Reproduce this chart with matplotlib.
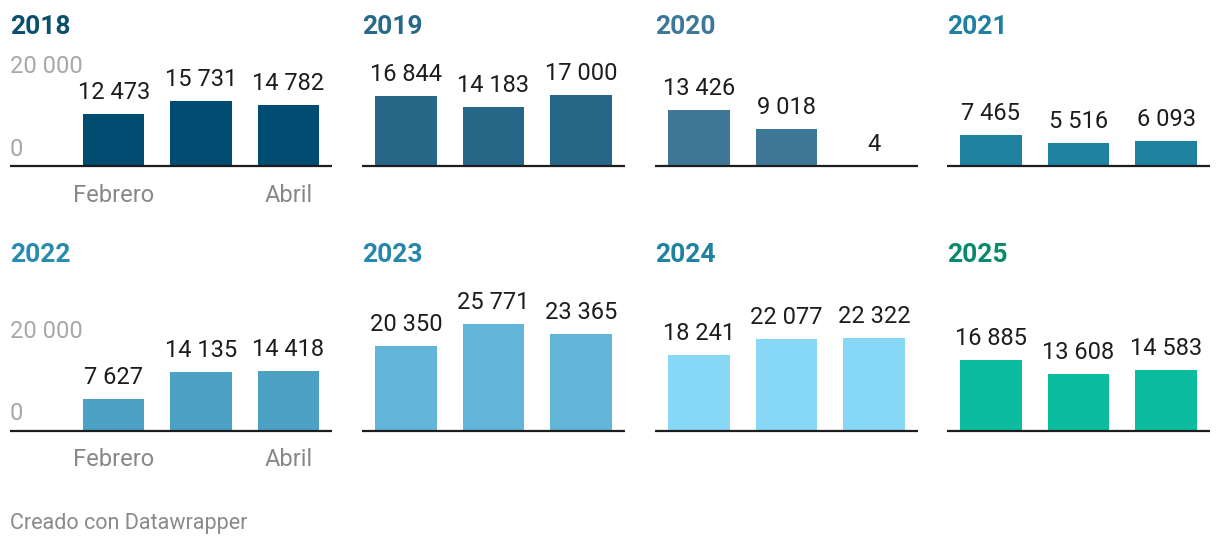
import matplotlib
matplotlib.use("Agg")
import matplotlib.pyplot as plt

plt.rcParams['font.family'] = ['Roboto', 'DejaVu Sans']

years = ['2018', '2019', '2020', '2021', '2022', '2023', '2024', '2025']
months = ['Febrero', 'Marzo', 'Abril']
shown_month_labels = ['Febrero', '', 'Abril']
values = {
    '2018': [12473, 15731, 14782],
    '2019': [16844, 14183, 17000],
    '2020': [13426, 9018, 4],
    '2021': [7465, 5516, 6093],
    '2022': [7627, 14135, 14418],
    '2023': [20350, 25771, 23365],
    '2024': [18241, 22077, 22322],
    '2025': [16885, 13608, 14583],
}
y_ticks = [0, 20000]
y_tick_labels = ['0', '20 000']
bar_colors = ['#004d71', '#266788', '#3f7797', '#1f82a1',
              '#4ba2c5', '#62b4d9', '#87d7f7', '#0bbc9f']
title_colors = ['#0b4f6f', '#27698a', '#3d7898', '#1f80a0',
                '#2a8bb0', '#2887ad', '#1f82a2', '#0a8a6c']
footer = 'Creado con Datawrapper'


def fmt(v):
    return f'{v:,}'.replace(',', ' ')


W, H = 1220, 548
fig = plt.figure(figsize=(W / 100, H / 100), dpi=100)

col_x = [(70, 332), (362, 625), (655, 918), (947, 1210)]
title_x = [10, 362, 655, 947]
row_base = [166, 430.5]
title_base = [34, 262]
px_per_unit = 4.15 / 1000
ax_h = 125
ymax = ax_h / px_per_unit

for i, yr in enumerate(years):
    r, c = divmod(i, 4)
    x0, x1 = col_x[c]
    base = row_base[r]
    ax = fig.add_axes([x0 / W, 1 - base / H, (x1 - x0) / W, ax_h / H])
    ax.set_xlim(-0.5, 2.5)
    ax.set_ylim(0, ymax)
    ax.axis('off')
    vals = values[yr]
    xs = list(range(len(months)))
    ax.bar(xs, vals, width=0.7, color=bar_colors[i], linewidth=0)
    for x, v in zip(xs, vals):
        ax.annotate(fmt(v), (x, v), xytext=(0, 15 * 0.72), textcoords='offset points',
                    ha='center', va='baseline', fontsize=17, color='#1d1d1d')
    # baseline
    left = (10 - x0) / (x1 - x0) if c == 0 else 0
    ax.plot([left, 1], [0, 0], transform=ax.get_yaxis_transform(),
            color='#1d1d1d', lw=1.6, clip_on=False, solid_capstyle='butt')
    if c == 0:
        for t, lab in zip(y_ticks, y_tick_labels):
            ax.annotate(lab, (left, t), xycoords=('axes fraction', 'data'),
                        xytext=(0, 10 * 0.72), textcoords='offset points',
                        ha='left', va='baseline', fontsize=17, color='#a8a8a8')
        for x, lab in zip(xs, shown_month_labels):
            if lab:
                ax.annotate(lab, (x, 0), xytext=(0, -35.5 * 0.72), textcoords='offset points',
                            ha='center', va='baseline', fontsize=17, color='#888888')
    fig.text(title_x[c] / W, 1 - title_base[r] / H, yr, ha='left', va='baseline',
             fontsize=19, fontweight='bold', color=title_colors[i])

fig.text(10 / W, 1 - 529 / H, footer, ha='left', va='baseline', fontsize=15.5, color='#8a8a8a')

fig.savefig('out.png', dpi=100, facecolor='white')
